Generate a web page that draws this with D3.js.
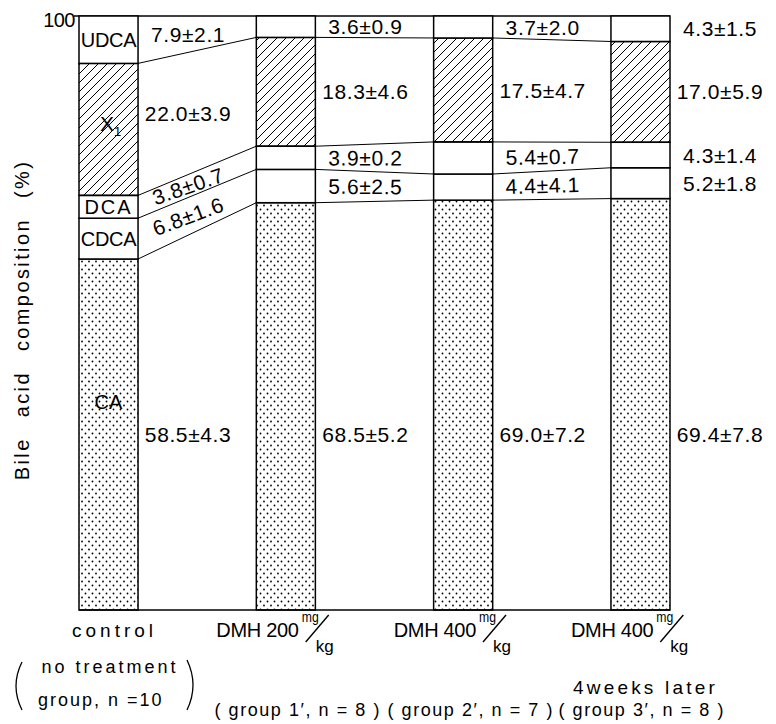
<!DOCTYPE html>
<html><head><meta charset="utf-8">
<script src="https://cdn.jsdelivr.net/npm/d3@7"></script>
<style>
html,body{margin:0;padding:0;background:#fff;}
text{font-family:"Liberation Sans",Arial,sans-serif;fill:#000;}
</style></head>
<body>
<svg id="c" width="776" height="724"></svg>
<script>
// ---- data ----
const categories = ["control", "DMH 200", "DMH 400", "DMH 400"];
const components = ["CA", "CDCA", "DCA", "X1", "UDCA"]; // bottom -> top
const CA   = [58.5, 68.5, 69.0, 69.4];
const CDCA = [6.8, 5.6, 4.4, 5.2];
const DCA  = [3.8, 3.9, 5.4, 4.3];
const X1   = [22.0, 18.3, 17.5, 17.0];
const UDCA = [7.9, 3.6, 3.7, 4.3];
const CA_sd   = [4.3, 5.2, 7.2, 7.8];
const CDCA_sd = [1.6, 2.5, 4.1, 1.8];
const DCA_sd  = [0.7, 0.2, 0.7, 1.4];
const X1_sd   = [3.9, 4.6, 4.7, 5.9];
const UDCA_sd = [2.1, 0.9, 2.0, 1.5];
const yTicks = [100];
const groupNotes = ["( group 1\u2032, n = 8 )", "( group 2\u2032, n = 7 )", "( group 3\u2032, n = 8 )"];

const means = {CA, CDCA, DCA, X1, UDCA};
const sds = {CA: CA_sd, CDCA: CDCA_sd, DCA: DCA_sd, X1: X1_sd, UDCA: UDCA_sd};
const rows = categories.map((c, i) => {
  const r = {i};
  components.forEach(k => r[k] = means[k][i]);
  return r;
});

const svg = d3.select("#c");
const defs = svg.append("defs");
const hatch = defs.append("pattern").attr("id", "hatch").attr("patternUnits", "userSpaceOnUse")
  .attr("width", 9).attr("height", 9);
hatch.append("path").attr("d", "M-1,10 L10,-1 M-3,3 L3,-3 M6,12 L12,6")
  .attr("stroke", "#000").attr("stroke-width", 1);
const dots = defs.append("pattern").attr("id", "dots").attr("patternUnits", "userSpaceOnUse")
  .attr("width", 7).attr("height", 8);
dots.append("circle").attr("cx", 1.5).attr("cy", 1.5).attr("r", 0.9).attr("fill", "#000");
dots.append("circle").attr("cx", 5).attr("cy", 5.5).attr("r", 0.9).attr("fill", "#000");

const fills = {CA: "url(#dots)", CDCA: "#fff", DCA: "#fff", X1: "url(#hatch)", UDCA: "#fff"};

const x = d3.scaleBand().domain(d3.range(categories.length)).range([79, 670])
  .paddingInner(0.667).paddingOuter(0);
const y = d3.scaleLinear().domain([0, 1]).range([610, 16]);

const series = d3.stack().keys(components).offset(d3.stackOffsetExpand)(rows);
const bw = x.bandwidth();

// connectors between bars
const g = svg.append("g");
series.forEach((s, k) => {
  if (k === series.length - 1) return;
  for (let i = 0; i < categories.length - 1; i++) {
    g.append("line")
      .attr("x1", x(i) + bw).attr("y1", y(s[i][1]))
      .attr("x2", x(i + 1)).attr("y2", y(s[i + 1][1]))
      .attr("stroke", "#000").attr("stroke-width", 1);
  }
});
// top and bottom lines
g.append("line").attr("x1", 74).attr("x2", x(3) + bw).attr("y1", y(1)).attr("y2", y(1))
  .attr("stroke", "#000").attr("stroke-width", 1.3);
g.append("line").attr("x1", x(0)).attr("x2", x(3) + bw).attr("y1", y(0)).attr("y2", y(0))
  .attr("stroke", "#000").attr("stroke-width", 1.6);

// bars
series.forEach(s => {
  g.selectAll(null).data(s).enter().append("rect")
    .attr("x", (d, i) => x(i)).attr("width", bw)
    .attr("y", d => y(d[1])).attr("height", d => y(d[0]) - y(d[1]))
    .attr("fill", fills[s.key]).attr("stroke", "#000").attr("stroke-width", 1.5);
});

// y tick label
svg.selectAll(null).data(yTicks).enter().append("text")
  .attr("x", 75).attr("y", d => y(d / 100) + 11).attr("text-anchor", "end")
  .attr("font-size", 20).attr("letter-spacing", -0.5).text(d => d);

// y axis title
svg.append("text").attr("transform", "translate(29,320) rotate(-90)")
  .attr("text-anchor", "middle").attr("font-size", 20).attr("letter-spacing", 2.4)
  .attr("word-spacing", 12).text("Bile acid composition (%)");

// value labels
const fmt = d3.format(".1f");
const lbl = svg.append("g");
series.forEach((s, k) => {
  const key = s.key;
  for (let i = 0; i < categories.length; i++) {
    const xr = x(i) + bw;
    const xc = xr + 50;
    let top, bot, ang = 0;
    if (i < categories.length - 1) {
      const t = (xc - xr) / (x(i + 1) - xr);
      top = y(s[i][1]) + t * (y(s[i + 1][1]) - y(s[i][1]));
      bot = y(s[i][0]) + t * (y(s[i + 1][0]) - y(s[i][0]));
      if (key === "DCA" || key === "CDCA") {
        const dy = ((y(s[i + 1][1]) - y(s[i][1])) + (y(s[i + 1][0]) - y(s[i][0]))) / 2;
        ang = Math.atan2(dy, x(i + 1) - xr) * 180 / Math.PI * 0.85;
      }
    } else {
      top = y(s[i][1]);
      bot = y(s[i][0]);
    }
    let yc = (top + bot) / 2;
    if (key === "CA") yc = y(0.296);
    lbl.append("text")
      .attr("transform", `translate(${xc},${yc}) rotate(${ang})`)
      .attr("text-anchor", "middle").attr("dy", "0.36em")
      .attr("font-size", 21).attr("letter-spacing", 0.6)
      .text(fmt(means[key][i]) + "\u00b1" + fmt(sds[key][i]));
  }
});

// component names inside first bar
const names = {UDCA: "UDCA", DCA: "DCA", CDCA: "CDCA"};
series.forEach(s => {
  const d = s[0];
  const cx = x(0) + bw / 2;
  if (names[s.key]) {
    svg.append("text").attr("x", cx).attr("y", (y(d[0]) + y(d[1])) / 2).attr("dy", "0.36em")
      .attr("text-anchor", "middle").attr("font-size", 20).attr("letter-spacing", s.key === "DCA" ? 2 : -0.3)
      .text(names[s.key]);
  } else if (s.key === "X1") {
    const t = svg.append("text").attr("x", cx + 2).attr("y", (y(d[0]) + y(d[1])) / 2 - 6)
      .attr("dy", "0.36em").attr("text-anchor", "middle").attr("font-size", 21);
    t.append("tspan").text("X");
    t.append("tspan").attr("font-size", 13).attr("dy", 5).text("1");
  } else if (s.key === "CA") {
    svg.append("text").attr("x", cx).attr("y", y(0.35)).attr("dy", "0.36em")
      .attr("text-anchor", "middle").attr("font-size", 20).text("CA");
  }
});

// x labels
const B = 637;
const xl = svg.append("g");
xl.append("text").attr("x", x(0) + bw / 2 + 6).attr("y", B).attr("text-anchor", "middle")
  .attr("font-size", 19).attr("letter-spacing", 4).text(categories[0]);
for (let i = 1; i < categories.length; i++) {
  const sx = x(i) - 40;
  const t = xl.append("text").attr("x", sx).attr("y", B).attr("font-size", 20)
    .attr("letter-spacing", -0.3).text(categories[i]);
  const E = sx + t.node().getComputedTextLength();
  xl.append("text").attr("x", E + 3).attr("y", B - 15).attr("font-size", 15)
    .attr("textLength", 17).attr("lengthAdjust", "spacingAndGlyphs").text("mg");
  xl.append("line").attr("x1", E + 7).attr("y1", B + 5).attr("x2", E + 30).attr("y2", B - 22)
    .attr("stroke", "#000").attr("stroke-width", 1.4);
  xl.append("text").attr("x", E + 17).attr("y", B + 15).attr("font-size", 17)
    .attr("textLength", 18).attr("lengthAdjust", "spacingAndGlyphs").text("kg");
}
xl.append("text").attr("x", x(3) + bw / 2 + 5).attr("y", 694).attr("text-anchor", "middle")
  .attr("font-size", 19).attr("letter-spacing", 3.2).text("4weeks later");

// control group note
xl.append("text").attr("x", 110).attr("y", 673).attr("text-anchor", "middle")
  .attr("font-size", 18).attr("letter-spacing", 3).text("no treatment");
xl.append("text").attr("x", 38).attr("y", 706)
  .attr("font-size", 18).attr("letter-spacing", 2).text("group, n =10");
xl.append("path").attr("d", "M22,662 Q10,686 22,710").attr("fill", "none").attr("stroke", "#000").attr("stroke-width", 1.3);
xl.append("path").attr("d", "M187,660 Q199,685 187,710").attr("fill", "none").attr("stroke", "#000").attr("stroke-width", 1.3);

const noteX = [297, 470, 641];
groupNotes.forEach((n, i) => {
  xl.append("text").attr("x", noteX[i]).attr("y", 716).attr("text-anchor", "middle")
    .attr("font-size", 18).attr("textLength", 165).attr("lengthAdjust", "spacing").text(n);
});
</script>
</body></html>
